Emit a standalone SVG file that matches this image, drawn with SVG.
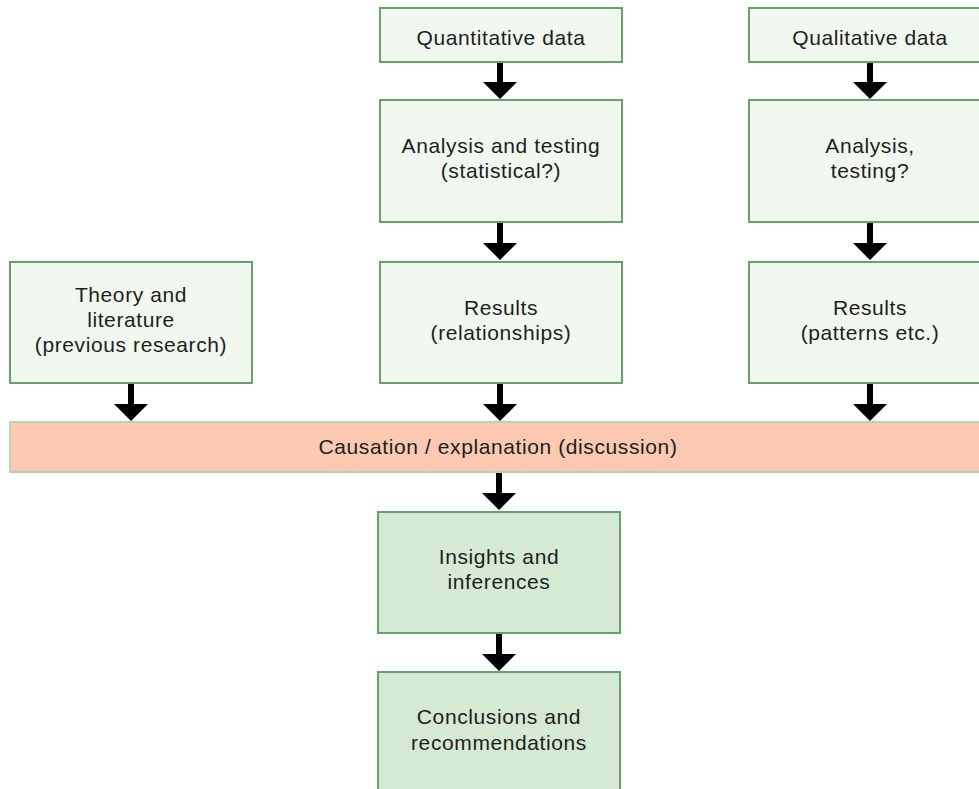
<svg xmlns="http://www.w3.org/2000/svg" width="979" height="789" viewBox="0 0 979 789">
<style>
.box{fill:#f1f8ef;stroke:#6b9f6e;stroke-width:2}
.dark{fill:#d4ead2;stroke:#6b9f6e;stroke-width:2}
.bar{fill:#fdc9b1;stroke:#b5d3bf;stroke-width:2}
text{font-family:"Liberation Sans",Arial,sans-serif;font-size:21px;letter-spacing:0.6px;fill:#1e1e1e;text-anchor:middle}
.arr{fill:#000}
</style>
<rect width="979" height="789" fill="#ffffff"/>
<g id="quant-data"><rect class="box" x="380" y="8" width="242" height="54"/><text x="501" y="45">Quantitative data</text></g>
<g id="quant-analysis"><rect class="box" x="380" y="100" width="242" height="122"/><text x="501" y="153">Analysis and testing</text><text x="501" y="178">(statistical?)</text></g>
<g id="quant-results"><rect class="box" x="380" y="262" width="242" height="121"/><text x="501" y="315">Results</text><text x="501" y="340">(relationships)</text></g>
<g id="qual-data"><rect class="box" x="749" y="8" width="242" height="54"/><text x="870" y="45">Qualitative data</text></g>
<g id="qual-analysis"><rect class="box" x="749" y="100" width="242" height="122"/><text x="870" y="153">Analysis,</text><text x="870" y="178">testing?</text></g>
<g id="qual-results"><rect class="box" x="749" y="262" width="242" height="121"/><text x="870" y="315">Results</text><text x="870" y="340">(patterns etc.)</text></g>
<g id="theory"><rect class="box" x="10" y="262" width="242" height="121"/><text x="131" y="302">Theory and</text><text x="131" y="327">literature</text><text x="131" y="352">(previous research)</text></g>
<g id="causation"><rect class="bar" x="10" y="422" width="980" height="50"/><text x="498" y="454">Causation / explanation (discussion)</text></g>
<g id="insights"><rect class="dark" x="378" y="512" width="242" height="121"/><text x="499" y="564">Insights and</text><text x="499" y="589">inferences</text></g>
<g id="conclusions"><rect class="dark" x="378" y="672" width="242" height="130"/><text x="499" y="724">Conclusions and</text><text x="499" y="750">recommendations</text></g>
<g id="connectors" class="arr">
<path d="M497,63 H503 V82 H517 L500,99 L483,82 H497 Z"/>
<path d="M497,223 H503 V243 H517 L500,260 L483,243 H497 Z"/>
<path d="M497,384 H503 V404 H517 L500,421 L483,404 H497 Z"/>
<path d="M128,384 H134 V404 H148 L131,421 L114,404 H128 Z"/>
<path d="M867,63 H873 V82 H887 L870,99 L853,82 H867 Z"/>
<path d="M867,223 H873 V243 H887 L870,260 L853,243 H867 Z"/>
<path d="M867,384 H873 V404 H887 L870,421 L853,404 H867 Z"/>
<path d="M496,473 H502 V493 H516 L499,510 L482,493 H496 Z"/>
<path d="M496,634 H502 V654 H516 L499,671 L482,654 H496 Z"/>
</g>
</svg>
